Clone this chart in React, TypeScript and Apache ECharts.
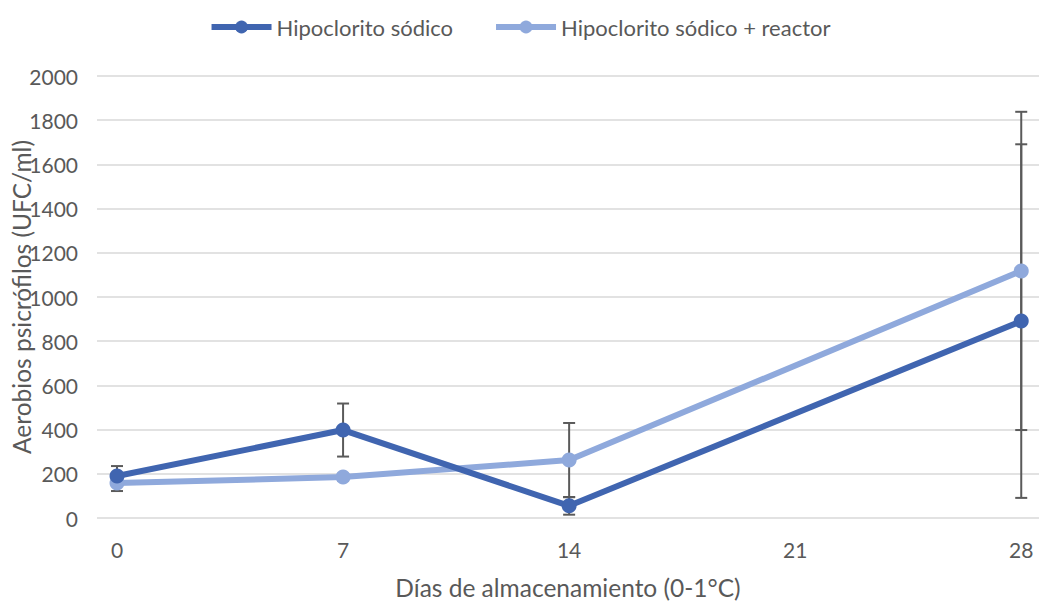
import React, { useEffect, useRef } from "react";
import * as echarts from "echarts";

const days = [0, 7, 14, 28];
const tickDays = [0, 7, 14, 21, 28];
const hipo = [190, 398, 55, 891];
const hipoErr = [45, 120, 40, 800];
const reactor = [158, 185, 262, 1118];
const reactorErr = [36, 15, 168, 720];

const seriesNames = ["Hipoclorito sódico", "Hipoclorito sódico + reactor"];
const colors = ["#4065B0", "#8FA9DC"];
const FONT = "Lato";
const TEXT = "#595959";

function errData(vals: number[], errs: number[]) {
  return days.map((d, i) => [d, vals[i] - errs[i], vals[i] + errs[i]]);
}

function renderErr(params: any, api: any) {
  const x = api.value(0);
  const lo = api.coord([x, api.value(1)]);
  const hi = api.coord([x, api.value(2)]);
  const w = 6;
  const style = { stroke: "#5A5A5A", lineWidth: 2 };
  return {
    type: "group",
    children: [
      { type: "line", shape: { x1: lo[0], y1: lo[1], x2: hi[0], y2: hi[1] }, style },
      { type: "line", shape: { x1: lo[0] - w, y1: lo[1], x2: lo[0] + w, y2: lo[1] }, style },
      { type: "line", shape: { x1: hi[0] - w, y1: hi[1], x2: hi[0] + w, y2: hi[1] }, style },
    ],
  };
}

export default function App() {
  const ref = useRef<HTMLDivElement>(null);
  useEffect(() => {
    if (!ref.current) return;
    const chart = echarts.init(ref.current, null, { renderer: "svg" });
    chart.setOption({
      animation: false,
      textStyle: { fontFamily: FONT },
      legend: {
        data: seriesNames,
        top: 11,
        left: "center",
        itemWidth: 60,
        itemHeight: 16,
        itemGap: 40,
        lineStyle: { width: 6 },
        textStyle: { fontFamily: FONT, fontSize: 22, color: TEXT },
      },
      grid: { left: 97, right: 0, top: 76, bottom: 83, outerBoundsMode: "none", containLabel: false },
      xAxis: {
        type: "value",
        min: -0.62,
        max: 28.55,
        name: "Días de almacenamiento (0-1°C)",
        nameLocation: "middle",
        nameGap: 57,
        nameMoveOverlap: false,
        nameTextStyle: { fontFamily: FONT, fontSize: 24.5, color: TEXT },
        axisLine: { show: false },
        axisTick: { show: false },
        splitLine: { show: false },
        axisLabel: {
          customValues: tickDays,
          margin: 21,
          fontFamily: FONT,
          fontSize: 21,
          color: TEXT,
        },
      },
      yAxis: {
        type: "value",
        min: 0,
        max: 2000,
        interval: 200,
        name: "Aerobios psicrófilos (UFC/ml)",
        nameLocation: "middle",
        nameGap: 63,
        nameMoveOverlap: false,
        nameTextStyle: { fontFamily: FONT, fontSize: 24.5, color: TEXT },
        axisLine: { show: false },
        axisTick: { show: false },
        axisLabel: {
          margin: 19,
          fontFamily: FONT,
          fontSize: 21,
          color: TEXT,
          formatter: (v: number) => String(v),
        },
        splitLine: { lineStyle: { color: "#D9D9D9", width: 1.5 } },
      },
      series: [
        {
          type: "custom",
          name: "err1",
          renderItem: renderErr,
          data: errData(hipo, hipoErr),
          encode: { x: 0, y: [1, 2] },
          z: 1,
          silent: true,
        },
        {
          type: "custom",
          name: "err2",
          renderItem: renderErr,
          data: errData(reactor, reactorErr),
          encode: { x: 0, y: [1, 2] },
          z: 1,
          silent: true,
        },
        {
          type: "line",
          name: seriesNames[0],
          data: days.map((d, i) => [d, hipo[i]]),
          color: colors[0],
          lineStyle: { width: 6, color: colors[0] },
          symbol: "circle",
          symbolSize: 15,
          itemStyle: { color: colors[0] },
          z: 3,
        },
        {
          type: "line",
          name: seriesNames[1],
          data: days.map((d, i) => [d, reactor[i]]),
          color: colors[1],
          lineStyle: { width: 6, color: colors[1] },
          symbol: "circle",
          symbolSize: 15,
          itemStyle: { color: colors[1] },
          z: 2,
        },
      ],
    });
    return () => chart.dispose();
  }, []);
  return (
    <div
      ref={ref}
      style={{ position: "fixed", left: 0, top: 0, width: 1039, height: 601, background: "#fff" }}
    />
  );
}
